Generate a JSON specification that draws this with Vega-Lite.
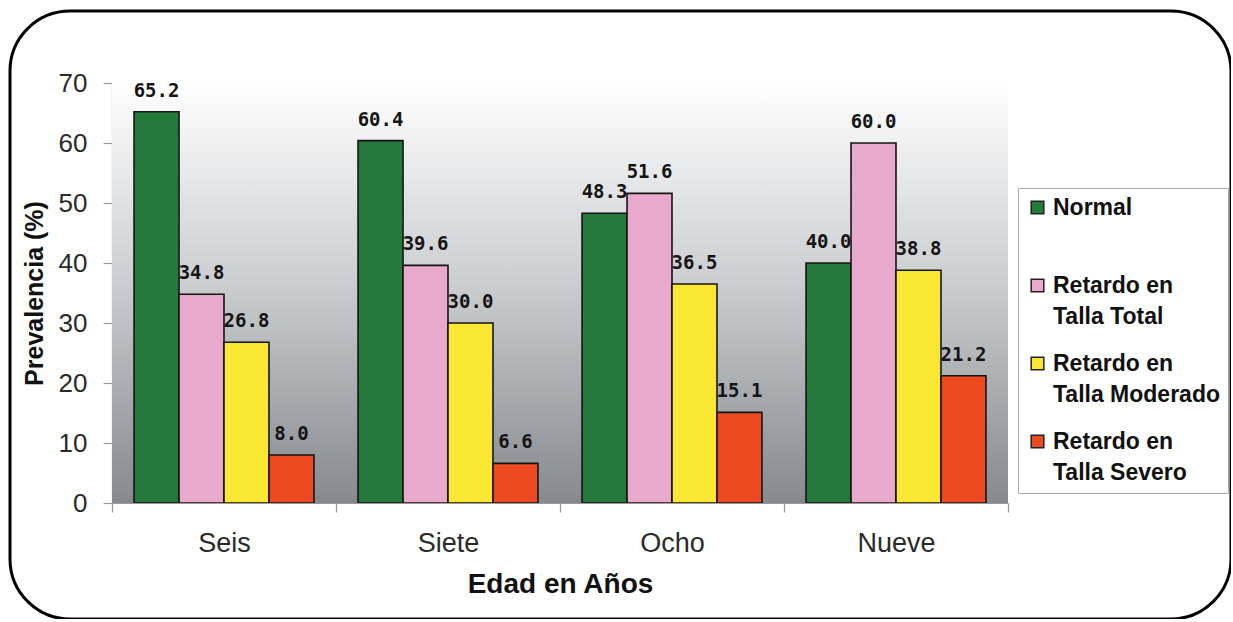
{
  "$schema": "https://vega.github.io/schema/vega-lite/v6.json",
  "autosize": {"type": "none"},
  "padding": {"left": 10, "top": 11, "right": 0, "bottom": 0},
  "width": 1221,
  "height": 608,
  "background": "white",
  "view": {"stroke": "black", "strokeWidth": 3, "cornerRadius": 60, "fill": "white"},
  "config": {
    "font": "Liberation Sans",
    "axis": {"grid": false, "domainColor": "#9a9a9a", "tickColor": "#9a9a9a", "domainWidth": 1.2, "tickWidth": 1.2, "labelColor": "#2a2a2a", "titleColor": "#111111", "labelFont": "Liberation Sans", "titleFont": "Liberation Sans"}
  },
  "data": {
    "values": [
      {"Edad": "Seis", "Serie": "Normal", "Prevalencia": 65.2},
      {"Edad": "Seis", "Serie": "Retardo en Talla Total", "Prevalencia": 34.8},
      {"Edad": "Seis", "Serie": "Retardo en Talla Moderado", "Prevalencia": 26.8},
      {"Edad": "Seis", "Serie": "Retardo en Talla Severo", "Prevalencia": 8.0},
      {"Edad": "Siete", "Serie": "Normal", "Prevalencia": 60.4},
      {"Edad": "Siete", "Serie": "Retardo en Talla Total", "Prevalencia": 39.6},
      {"Edad": "Siete", "Serie": "Retardo en Talla Moderado", "Prevalencia": 30.0},
      {"Edad": "Siete", "Serie": "Retardo en Talla Severo", "Prevalencia": 6.6},
      {"Edad": "Ocho", "Serie": "Normal", "Prevalencia": 48.3},
      {"Edad": "Ocho", "Serie": "Retardo en Talla Total", "Prevalencia": 51.6},
      {"Edad": "Ocho", "Serie": "Retardo en Talla Moderado", "Prevalencia": 36.5},
      {"Edad": "Ocho", "Serie": "Retardo en Talla Severo", "Prevalencia": 15.1},
      {"Edad": "Nueve", "Serie": "Normal", "Prevalencia": 40.0},
      {"Edad": "Nueve", "Serie": "Retardo en Talla Total", "Prevalencia": 60.0},
      {"Edad": "Nueve", "Serie": "Retardo en Talla Moderado", "Prevalencia": 38.8},
      {"Edad": "Nueve", "Serie": "Retardo en Talla Severo", "Prevalencia": 21.2}
    ]
  },
  "encoding": {
    "x": {
      "field": "Edad", "type": "nominal", "sort": ["Seis", "Siete", "Ocho", "Nueve"],
      "scale": {"range": [102, 998], "paddingInner": 0, "paddingOuter": 0},
      "axis": {
        "offset": -116, "tickBand": "extent", "tickSize": 9, "labelAngle": 0,
        "labelFontSize": 27, "labelPadding": 18, "title": "Edad en Años",
        "titleFontSize": 28, "titleFontWeight": "bold", "titlePadding": 14
      }
    }
  },
  "layer": [
    {
      "mark": {
        "type": "rect",
        "fill": {"gradient": "linear", "x1": 0, "y1": 0, "x2": 0, "y2": 1,
          "stops": [{"offset": 0, "color": "#ffffff"}, {"offset": 0.5, "color": "#c8cacd"}, {"offset": 1, "color": "#85898d"}]},
        "stroke": null
      },
      "encoding": {
        "y": {"datum": 70, "type": "quantitative"},
        "y2": {"datum": 0}
      }
    },
    {
      "mark": {"type": "bar", "stroke": "#151515", "strokeWidth": 1.6},
      "encoding": {
        "xOffset": {"field": "Serie", "type": "nominal",
          "sort": ["Normal", "Retardo en Talla Total", "Retardo en Talla Moderado", "Retardo en Talla Severo"],
          "scale": {"paddingInner": 0, "paddingOuter": 0.49}},
        "y": {
          "field": "Prevalencia", "type": "quantitative",
          "scale": {"domain": [0, 70], "range": [492, 72], "nice": false, "zero": true},
          "axis": {
            "offset": -102, "values": [0, 10, 20, 30, 40, 50, 60, 70], "tickSize": 9,
            "labelFontSize": 26, "labelPadding": 16, "title": "Prevalencia (%)",
            "titleFontSize": 25, "titleFontWeight": "bold", "titlePadding": 11
          }
        },
        "color": {
          "field": "Serie", "type": "nominal",
          "scale": {
            "domain": ["Normal", "Retardo en Talla Total", "Retardo en Talla Moderado", "Retardo en Talla Severo"],
            "range": ["#237a3b", "#e8a9cc", "#fbe632", "#ee4a22"]
          },
          "legend": {
            "orient": "none", "legendX": 1008, "legendY": 177, "title": null,
            "symbolType": "square", "symbolSize": 160, "symbolStrokeColor": "#222222", "symbolStrokeWidth": 1.5,
            "labelFont": "Liberation Sans", "labelFontSize": 23, "labelFontWeight": "bold", "labelColor": "#111111",
            "labelLimit": 400, "labelOffset": 4, "labelBaseline": "middle",
            "labelExpr": "datum.label == 'Normal' ? ['Normal', ' '] : ['Retardo en', substring(datum.label, 11)]",
            "rowPadding": 23, "padding": 8, "strokeColor": "#aaaaaa", "fillColor": "white",
            "symbolOpacity": 1,
            "encode": {"labels": {"update": {"lineHeight": {"value": 31}}}}
          }
        }
      }
    },
    {
      "mark": {"type": "text", "font": "DejaVu Sans Mono", "fontWeight": "bold", "fontSize": 19, "color": "#151515", "baseline": "alphabetic", "dy": -15},
      "encoding": {
        "xOffset": {"field": "Serie", "type": "nominal",
          "sort": ["Normal", "Retardo en Talla Total", "Retardo en Talla Moderado", "Retardo en Talla Severo"]},
        "y": {"field": "Prevalencia", "type": "quantitative"},
        "text": {"field": "Prevalencia", "type": "quantitative", "format": ".1f"}
      }
    }
  ]
}
